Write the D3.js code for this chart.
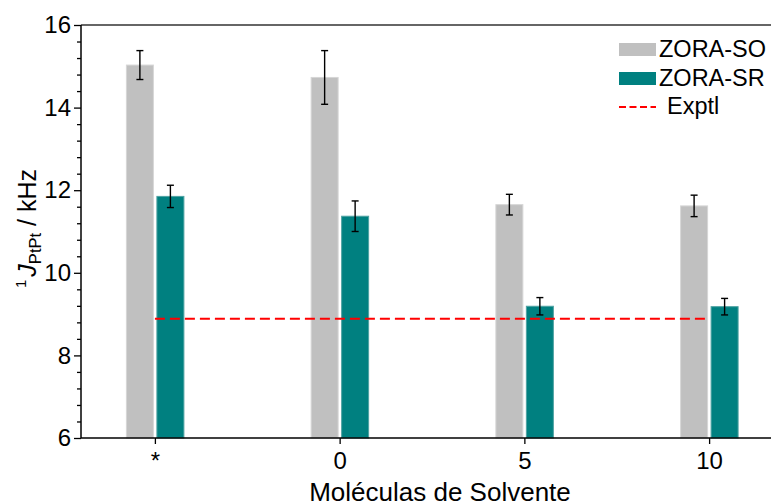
<!DOCTYPE html>
<html>
<head>
<meta charset="utf-8">
<script src="https://cdn.jsdelivr.net/npm/d3@7"></script>
<style>
  html, body { margin: 0; padding: 0; background: #fff; }
  svg { display: block; font-family: "Liberation Sans", Arial, sans-serif; }
</style>
</head>
<body>
<svg id="chart" width="771" height="503"></svg>
<script>
// Coupling constants 1J(Pt-Pt) per number of explicit solvent molecules
const categories = ["*", "0", "5", "10"];
const soValues = [15.03, 14.73, 11.65, 11.62];
const soErrors = [0.35, 0.65, 0.25, 0.26];
const srValues = [11.85, 11.37, 9.19, 9.18];
const srErrors = [0.27, 0.37, 0.21, 0.20];
const exptlValue = 8.89;
const yMajorTicks = [6, 8, 10, 12, 14, 16];
const seriesNames = ["ZORA-SO", "ZORA-SR", "Exptl"];

const svg = d3.select("#chart");
const plotL = 81, plotR = 783, plotT = 25, plotB = 438;

const x = d3.scalePoint().domain(categories).range([plotL, plotR]).padding(0.4);
const y = d3.scaleLinear().domain([6, 16]).range([plotB, plotT]);

const colSO = "#c0c0c0", colSR = "#008080";
const textCol = "#000";
const barW = 27;

// bars
const g = svg.append("g");
categories.forEach((c, i) => {
  const cx = x(c);
  g.append("rect")
    .attr("x", cx - 1.5 - barW).attr("width", barW)
    .attr("y", y(soValues[i])).attr("height", y(6) - y(soValues[i]))
    .attr("fill", colSO).attr("stroke", "#d6d6d6").attr("stroke-width", 1);
  g.append("rect")
    .attr("x", cx + 2).attr("width", barW)
    .attr("y", y(srValues[i])).attr("height", y(6) - y(srValues[i]))
    .attr("fill", colSR).attr("stroke", "#4fa3a3").attr("stroke-width", 1);
});

// error bars
function errBar(cx, v, e) {
  const eg = g.append("g").attr("stroke", "#000").attr("stroke-width", 1.4);
  eg.append("line").attr("x1", cx).attr("x2", cx).attr("y1", y(v + e)).attr("y2", y(v - e));
  eg.append("line").attr("x1", cx - 3.5).attr("x2", cx + 3.5).attr("y1", y(v + e)).attr("y2", y(v + e));
  eg.append("line").attr("x1", cx - 3.5).attr("x2", cx + 3.5).attr("y1", y(v - e)).attr("y2", y(v - e));
}
categories.forEach((c, i) => {
  const cx = x(c);
  errBar(cx - 1.5 - barW / 2, soValues[i], soErrors[i]);
  errBar(cx + 2 + barW / 2, srValues[i], srErrors[i]);
});

// experimental reference line
svg.append("line")
  .attr("x1", x(categories[0])).attr("x2", x(categories[categories.length - 1]))
  .attr("y1", y(exptlValue)).attr("y2", y(exptlValue))
  .attr("stroke", "#ff0000").attr("stroke-width", 2).attr("stroke-dasharray", "10,5");

// frame top
svg.append("line").attr("x1", plotL).attr("x2", 771).attr("y1", plotT).attr("y2", plotT)
  .attr("stroke", "#333").attr("stroke-width", 1.3);

// y axis
const yMinor = d3.range(6, 16.001, 0.4).filter(v => !yMajorTicks.some(t => Math.abs(t - v) < 1e-6));
const yAxisMinor = d3.axisLeft(y).tickValues(yMinor).tickSize(4).tickFormat("");
const yAxis = d3.axisLeft(y).tickValues(yMajorTicks).tickSize(7).tickPadding(3).tickFormat(d3.format("d"));
svg.append("g").attr("transform", `translate(${plotL},0)`).call(yAxisMinor)
  .call(s => s.select(".domain").remove())
  .selectAll("line").attr("stroke", "#000").attr("stroke-width", 1.3);
const ya = svg.append("g").attr("transform", `translate(${plotL},0)`).call(yAxis);
ya.select(".domain").attr("stroke", "#000").attr("stroke-width", 1.5).attr("d", `M0,${plotB}V${plotT}`);
ya.selectAll("line").attr("stroke", "#000").attr("stroke-width", 1.3);
ya.selectAll("text").attr("font-size", 24).attr("fill", textCol).attr("font-family", "Liberation Sans, Arial, sans-serif");

// x axis
const xAxis = d3.axisBottom(x).tickSize(6).tickPadding(8);
const xa = svg.append("g").attr("transform", `translate(0,${plotB})`).call(xAxis);
xa.select(".domain").attr("stroke", "#000").attr("stroke-width", 1.5).attr("d", `M${plotL},0H${plotR}`);
xa.selectAll("line").attr("stroke", "#000").attr("stroke-width", 1.3);
xa.selectAll("text").attr("font-size", 24).attr("fill", textCol).attr("font-family", "Liberation Sans, Arial, sans-serif");

// axis titles
svg.append("text").attr("x", 440).attr("y", 501).attr("text-anchor", "middle")
  .attr("font-size", 26).attr("fill", textCol).text("Moléculas de Solvente");

const yt = svg.append("text").attr("transform", "translate(36,228.5) rotate(-90)")
  .attr("text-anchor", "middle").attr("font-size", 25).attr("fill", textCol);
yt.append("tspan").attr("font-size", 15).attr("dy", -10).text("1");
yt.append("tspan").attr("dy", 10).attr("dx", 3).attr("font-style", "italic").text("J");
yt.append("tspan").attr("font-size", 16.5).attr("dy", 5).text("PtPt");
yt.append("tspan").attr("dy", -5).text(" / kHz");

// legend
const lg = svg.append("g");
lg.append("rect").attr("x", 619).attr("y", 43).attr("width", 37).attr("height", 13).attr("fill", colSO);
lg.append("rect").attr("x", 619).attr("y", 72).attr("width", 37).attr("height", 13).attr("fill", colSR);
lg.append("line").attr("x1", 619).attr("x2", 656).attr("y1", 107).attr("y2", 107)
  .attr("stroke", "#ff0000").attr("stroke-width", 2).attr("stroke-dasharray", "7,3.5");
lg.append("text").attr("x", 659).attr("y", 57).attr("font-size", 23.5).attr("fill", textCol).text(seriesNames[0]);
lg.append("text").attr("x", 659).attr("y", 86).attr("font-size", 23.5).attr("fill", textCol).text(seriesNames[1]);
lg.append("text").attr("x", 667).attr("y", 114).attr("font-size", 23.5).attr("fill", textCol).text(seriesNames[2]);
</script>
</body>
</html>
